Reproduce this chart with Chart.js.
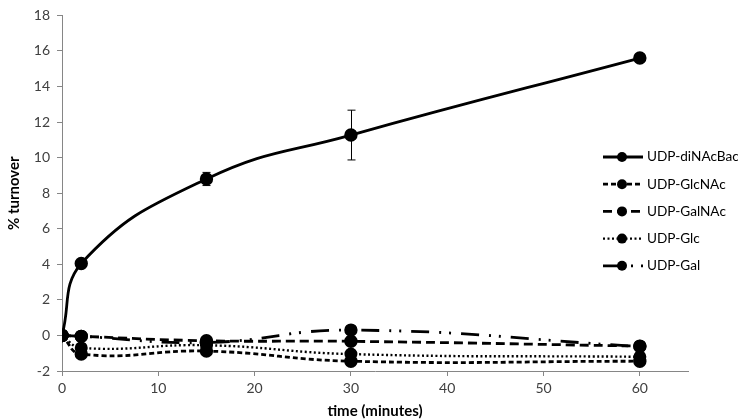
<!DOCTYPE html>
<html>
<head>
<meta charset="utf-8">
<script src="https://cdn.jsdelivr.net/npm/chart.js@4"></script>
<style>
  html, body { margin: 0; padding: 0; background: #ffffff; }
  #wrap { width: 738px; height: 420px; position: relative; }
</style>
</head>
<body>
<div id="wrap"><canvas id="c" width="738" height="420"></canvas></div>
<script>
// ---- data ----
const categories = [0, 2, 15, 30, 60];            // time (minutes)
const seriesNames = ['UDP-diNAcBac', 'UDP-GlcNAc', 'UDP-GalNAc', 'UDP-Glc', 'UDP-Gal'];
const diNAcBac    = [0, 4.05, 8.8, 11.27, 15.6];
const diNAcBacErr = [0, 0.15, 0.37, 1.4, 0];
const glcNAc      = [0, -1.05, -0.88, -1.45, -1.45];
const galNAc      = [0, -0.05, -0.3, -0.33, -0.6];
const glc         = [0, -0.7, -0.55, -1.05, -1.2];
const gal         = [0, -0.05, -0.4, 0.3, -0.62];
const xTicks = [0, 10, 20, 30, 40, 50, 60];
const yTicks = [-2, 0, 2, 4, 6, 8, 10, 12, 14, 16, 18];

const FONT = 'Lato, "Open Sans", sans-serif';
const toPts = arr => categories.map((x, i) => ({ x: x, y: arr[i] }));

const styles = [
  { dash: [], width: 2.8 },
  { dash: [5, 3], width: 2.8 },
  { dash: [9, 5], width: 2.8 },
  { dash: [2, 2.5], width: 2.4 },
  { dash: [18, 10, 2, 8, 2, 10], width: 2.8 }
];
const values = [diNAcBac, glcNAc, galNAc, glc, gal];

const datasets = values.map((v, i) => ({
  label: seriesNames[i],
  data: toPts(v),
  borderColor: '#000',
  backgroundColor: '#000',
  borderWidth: styles[i].width,
  borderDash: styles[i].dash,
  pointRadius: 5.3,
  pointHoverRadius: 5.3,
  pointBackgroundColor: '#000',
  pointBorderColor: '#000',
  tension: 0.45,
  fill: false,
  errors: i === 0 ? diNAcBacErr : null
}));

const errorBars = {
  id: 'errorBars',
  afterDatasetsDraw(chart) {
    const { ctx, scales: { x, y } } = chart;
    ctx.save();
    ctx.strokeStyle = '#000';
    ctx.lineWidth = 1;
    chart.data.datasets.forEach(ds => {
      if (!ds.errors) return;
      ds.data.forEach((p, i) => {
        const e = ds.errors[i];
        if (!e) return;
        const px = Math.round(x.getPixelForValue(p.x)) + 0.5;
        const top = y.getPixelForValue(p.y + e);
        const bot = y.getPixelForValue(p.y - e);
        ctx.beginPath();
        ctx.moveTo(px, top); ctx.lineTo(px, bot);
        ctx.moveTo(px - 4, top); ctx.lineTo(px + 4, top);
        ctx.moveTo(px - 4, bot); ctx.lineTo(px + 4, bot);
        ctx.stroke();
      });
    });
    ctx.restore();
  }
};

const customLegend = {
  id: 'customLegend',
  afterDraw(chart) {
    const ctx = chart.ctx;
    ctx.save();
    chart.data.datasets.forEach((ds, i) => {
      const yy = 157 + i * 27.2;
      ctx.strokeStyle = '#000';
      ctx.lineWidth = ds.borderWidth;
      ctx.setLineDash(ds.borderDash);
      ctx.beginPath();
      ctx.moveTo(603, yy); ctx.lineTo(643, yy);
      ctx.stroke();
      ctx.setLineDash([]);
      ctx.fillStyle = '#000';
      ctx.beginPath();
      ctx.arc(622, yy, 5, 0, Math.PI * 2);
      ctx.fill();
      ctx.font = '13.6px ' + FONT;
      ctx.textBaseline = 'middle';
      ctx.textAlign = 'left';
      ctx.fillText(ds.label, 647, yy);
    });
    ctx.restore();
  }
};

new Chart(document.getElementById('c'), {
  type: 'line',
  data: { datasets },
  plugins: [errorBars, customLegend],
  options: {
    responsive: false,
    animation: false,
    layout: { padding: { top: 12, right: 50, left: 0, bottom: 0 } },
    plugins: { legend: { display: false }, tooltip: { enabled: false } },
    scales: {
      x: {
        type: 'linear',
        min: 0, max: 65,
        afterBuildTicks(s) { s.ticks = xTicks.map(v => ({ value: v })); },
        afterFit(s) { s.height = 49; },
        border: { display: true, color: '#868686', width: 1 },
        grid: { drawOnChartArea: false, drawTicks: true, tickLength: 5, color: '#868686' },
        ticks: { color: '#404040', font: { family: FONT, size: 14 }, padding: 4, maxRotation: 0 },
        title: { display: true, text: 'time (minutes)', color: '#000', font: { family: FONT, size: 15, weight: 'bold' }, padding: { top: 0, bottom: 0 } }
      },
      y: {
        min: -2, max: 18,
        afterBuildTicks(s) { s.ticks = yTicks.map(v => ({ value: v })); },
        afterFit(s) { s.width = 62; },
        border: { display: true, color: '#868686', width: 1 },
        grid: { drawOnChartArea: false, drawTicks: true, tickLength: 5, color: '#868686' },
        ticks: { color: '#404040', font: { family: FONT, size: 14 }, padding: 7 },
        title: { display: true, text: '% turnover', color: '#000', font: { family: FONT, size: 15, weight: 'bold' }, padding: { top: 5, bottom: 0 } }
      }
    }
  }
});
</script>
</body>
</html>
